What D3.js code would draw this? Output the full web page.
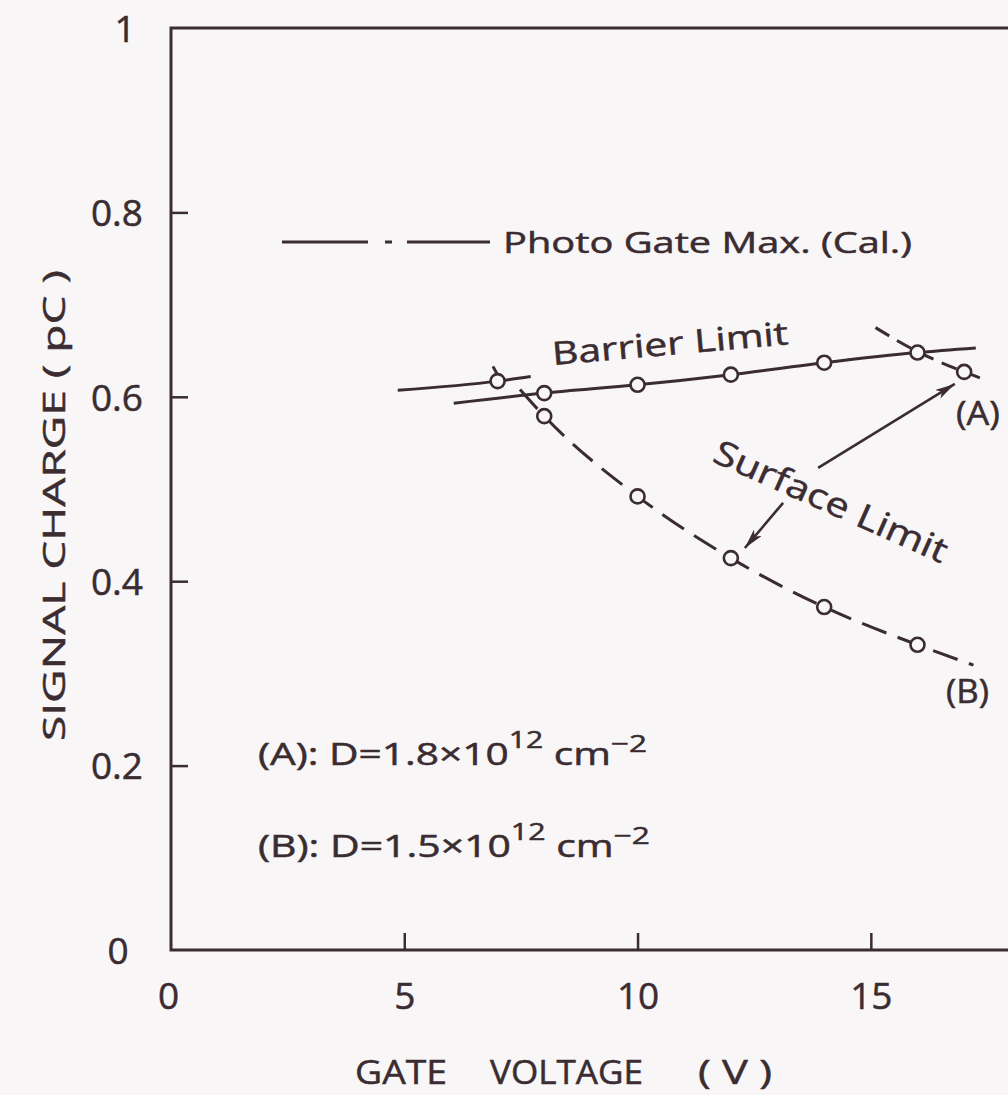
<!DOCTYPE html>
<html><head><meta charset="utf-8">
<script src="https://cdn.jsdelivr.net/npm/d3@7"></script>
<style>
body{margin:0;background:#f8f6f7}
svg{display:block}
text{font-family:"Open Sans","DejaVu Sans",sans-serif;fill:#3a2c30;stroke:#3a2c30;stroke-width:0.5px}
</style>
</head><body>
<svg id="c" width="1008" height="1095"></svg>
<script>
// ---- data ----
const xTickValues=[0,5,10,15];
const xTickLabels=["0","5","10","15"];
const yTickValues=[0,0.2,0.4,0.6,0.8,1];
const yTickLabels=["0","0.2","0.4","0.6","0.8","1"];

// Barrier limit lines (solid)
const barrierA_V=[4.86,7.0,7.71];
const barrierA_Q=[0.607,0.617,0.622];
const barrierA_markV=[7.0];
const barrierA_markQ=[0.617];

const barrierB_V=[6.06,8,10,12,14,16,17.25];
const barrierB_Q=[0.593,0.604,0.613,0.624,0.637,0.648,0.653];
const barrierB_markV=[8,10,12,14,16];
const barrierB_markQ=[0.604,0.613,0.624,0.637,0.648];

// Surface limit curves (dashed)
const surfaceA_V=[15.1,16,17,17.42];
const surfaceA_Q=[0.675,0.649,0.627,0.619];
const surfaceA_markV=[17];
const surfaceA_markQ=[0.627];

const surfaceB_V=[7.48,8,10,12,14,16,17.2];
const surfaceB_Q=[0.608,0.579,0.492,0.425,0.372,0.331,0.309];
const surfaceB_markV=[8,10,12,14,16];
const surfaceB_markQ=[0.579,0.492,0.425,0.372,0.331];

// short stroke at the (A) point near 7 V
const stubA_V=[6.9,7.0];
const stubA_Q=[0.633,0.624];

// arrows ("Surface Limit")
const arrowA_V=[13.87,16.8];
const arrowA_Q=[0.523,0.614];
const arrowB_V=[13.12,12.3];
const arrowB_Q=[0.485,0.436];

// ---- drawing ----
const ink="#3a2c30";
const svg=d3.select("#c");
const W=1008,H=1095;
const x=d3.scaleLinear().domain([0,17.94]).range([171,1008]);
const y=d3.scaleLinear().domain([0,1]).range([950,28]);

// frame
svg.append("path")
  .attr("d",`M${W},${y(1)}H${x(0)}V${y(0)}H${W}`)
  .attr("fill","none").attr("stroke",ink).attr("stroke-width",3);

// x axis ticks & labels
const xa=d3.axisBottom(x).tickValues(xTickValues)
  .tickFormat((d,i)=>xTickLabels[i]).tickSizeInner(-17).tickSizeOuter(0).tickPadding(33);
const gx=svg.append("g").attr("transform",`translate(0,${y(0)})`).call(xa);
gx.select(".domain").remove();
gx.selectAll(".tick line").attr("stroke",ink).attr("stroke-width",2.5)
  .filter(d=>d===0).remove();
gx.selectAll(".tick text").attr("font-size",37).attr("fill",ink)
  .attr("transform",d=>d===0?"translate(-3,0)":null);

// y axis ticks & labels
const ya=d3.axisLeft(y).tickValues(yTickValues)
  .tickFormat((d,i)=>yTickLabels[i]).tickSizeInner(-17).tickSizeOuter(0).tickPadding(28);
const gy=svg.append("g").attr("transform",`translate(${x(0)},0)`).call(ya);
gy.select(".domain").remove();
gy.selectAll(".tick line").attr("stroke",ink).attr("stroke-width",2.5)
  .filter(d=>d===0||d===1).remove();
gy.selectAll(".tick text").attr("font-size",37).attr("fill",ink)
  .attr("text-anchor",d=>(d===0||d===1)?"middle":"end")
  .attr("x",d=>d===1?-46:(d===0?-53:-28))
  .attr("dy","0.36em");

// series helpers
const mk=(V,Q)=>V.map((v,i)=>[v,Q[i]]);
const lineGen=d3.line().x(d=>x(d[0])).y(d=>y(d[1])).curve(d3.curveMonotoneX);
function drawLine(data,dash){
  svg.append("path").datum(data).attr("d",lineGen)
    .attr("fill","none").attr("stroke",ink).attr("stroke-width",3)
    .attr("stroke-dasharray",dash||null).attr("stroke-linecap","butt");
}
function drawMarks(data){
  svg.append("g").selectAll("circle").data(data).join("circle")
    .attr("cx",d=>x(d[0])).attr("cy",d=>y(d[1])).attr("r",7)
    .attr("fill","#f8f6f7").attr("stroke",ink).attr("stroke-width",2.6);
}
drawLine(mk(surfaceB_V,surfaceB_Q),"26,12");
drawLine(mk(surfaceA_V,surfaceA_Q),"16,9");
drawLine(mk(barrierA_V,barrierA_Q));
drawLine(mk(barrierB_V,barrierB_Q));
svg.append("path").datum(mk(stubA_V,stubA_Q))
  .attr("d",d3.line().x(d=>x(d[0])).y(d=>y(d[1])))
  .attr("stroke",ink).attr("stroke-width",3);
drawMarks(mk(barrierA_markV,barrierA_markQ));
drawMarks(mk(barrierB_markV,barrierB_markQ));
drawMarks(mk(surfaceA_markV,surfaceA_markQ));
drawMarks(mk(surfaceB_markV,surfaceB_markQ));

// arrows
svg.append("defs").append("marker").attr("id","ah")
  .attr("viewBox","0 0 20 10").attr("refX",20).attr("refY",5)
  .attr("markerWidth",20).attr("markerHeight",10).attr("markerUnits","userSpaceOnUse")
  .attr("orient","auto")
  .append("path").attr("d","M0,0L20,5L0,10L5,5Z").attr("fill",ink);
[[arrowA_V,arrowA_Q],[arrowB_V,arrowB_Q]].forEach(([V,Q])=>{
  svg.append("line").attr("x1",x(V[0])).attr("y1",y(Q[0]))
    .attr("x2",x(V[1])).attr("y2",y(Q[1]))
    .attr("stroke",ink).attr("stroke-width",2.6).attr("marker-end","url(#ah)");
});

// legend (Photo Gate Max.)
svg.append("line").attr("x1",282).attr("y1",242).attr("x2",490).attr("y2",242)
  .attr("stroke",ink).attr("stroke-width",3).attr("stroke-dasharray","86,17,7,15,90");
svg.append("text").attr("x",503).attr("y",253).attr("font-size",29)
  .attr("textLength",409).attr("lengthAdjust","spacingAndGlyphs")
  .text("Photo Gate Max. (Cal.)");

// curve labels
svg.append("text").attr("transform","translate(553,365) rotate(-5)")
  .attr("font-size",32).attr("textLength",237).attr("lengthAdjust","spacingAndGlyphs")
  .text("Barrier Limit");
svg.append("text").attr("transform","translate(711,461) rotate(24)")
  .attr("font-size",34).attr("textLength",252).attr("lengthAdjust","spacingAndGlyphs")
  .text("Surface Limit");
svg.append("text").attr("x",956).attr("y",425).attr("font-size",33)
  .attr("textLength",44).attr("lengthAdjust","spacingAndGlyphs").text("(A)");
svg.append("text").attr("x",946).attr("y",703).attr("font-size",32)
  .attr("textLength",43).attr("lengthAdjust","spacingAndGlyphs").text("(B)");

// condition annotations
function cond(label,val,yb,len){
  const t=svg.append("text").attr("x",258).attr("y",yb).attr("font-size",31)
    .attr("textLength",len).attr("lengthAdjust","spacingAndGlyphs");
  t.append("tspan").text(`(${label}):  D=${val}\u00d710`);
  t.append("tspan").attr("dy",-17).attr("font-size",23).text("12");
  t.append("tspan").attr("dy",17).text(" cm");
  t.append("tspan").attr("dy",-13).attr("font-size",24).text("\u22122");
}
cond("A","1.8",765,389);
cond("B","1.5",857,392);

// axis titles
const xt=svg.append("g").attr("font-size",33);
xt.append("text").attr("x",355).attr("y",1084).attr("textLength",92)
  .attr("lengthAdjust","spacingAndGlyphs").text("GATE");
xt.append("text").attr("x",490).attr("y",1084).attr("textLength",153)
  .attr("lengthAdjust","spacingAndGlyphs").text("VOLTAGE");
xt.append("text").attr("x",698).attr("y",1084).attr("textLength",74)
  .attr("lengthAdjust","spacingAndGlyphs").text("( V )");
svg.append("text").attr("transform","translate(65,741) rotate(-90)")
  .attr("font-size",31).attr("textLength",471).attr("lengthAdjust","spacingAndGlyphs")
  .text("SIGNAL CHARGE ( pC )");
</script>
</body></html>
